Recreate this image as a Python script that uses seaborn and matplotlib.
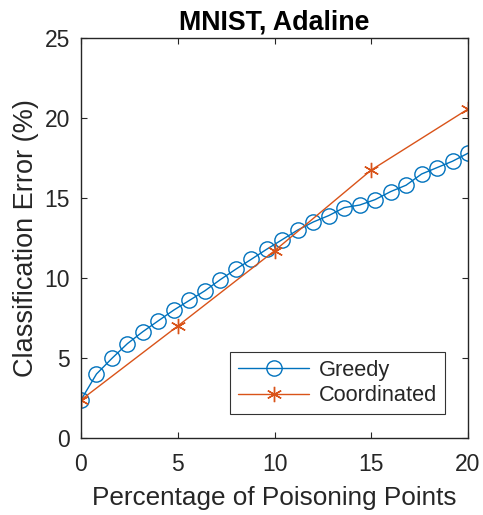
import numpy as np
import pandas as pd
import matplotlib
matplotlib.use("Agg")
import matplotlib.pyplot as plt
import seaborn as sns

# Percentage of poisoning points and classification error (%)
greedy_x = [0, 0.8, 1.6, 2.4, 3.2, 4.0, 4.8, 5.6, 6.4, 7.2, 8.0, 8.8, 9.6,
            10.4, 11.2, 12.0, 12.8, 13.6, 14.4, 15.2, 16.0, 16.8, 17.6, 18.4, 19.2, 20.0]
greedy_err = [2.38, 4.0, 4.98, 5.9, 6.65, 7.33, 8.0, 8.6, 9.2, 9.9, 10.55, 11.17, 11.8,
              12.4, 13.0, 13.5, 13.9, 14.4, 14.56, 14.9, 15.4, 15.8, 16.5, 16.9, 17.3, 17.8]
coord_x = [0, 5, 10, 15, 20]
coord_err = [2.38, 7.0, 11.7, 16.75, 20.56]

x_ticks = [0, 5, 10, 15, 20]
y_ticks = [0, 5, 10, 15, 20, 25]

sns.set_style("white")
plt.rcParams["font.family"] = ["Liberation Sans", "DejaVu Sans"]

blue = "#0072BD"
orange = "#D95319"
axis_col = "#262626"

fig = plt.figure(figsize=(4.83, 5.15), dpi=100)
ax = fig.add_axes([0.1677, 0.1495, 0.8013, 0.7767])

df_g = pd.DataFrame({"x": greedy_x, "y": greedy_err})
df_c = pd.DataFrame({"x": coord_x, "y": coord_err})

sns.lineplot(data=df_g, x="x", y="y", ax=ax, color=blue, lw=1.0,
             marker="o", markersize=11, markerfacecolor="none",
             markeredgecolor=blue, markeredgewidth=1.0, label="Greedy")
sns.lineplot(data=df_c, x="x", y="y", ax=ax, color=orange, lw=1.0,
             marker=(6, 2, 0), markersize=11, markeredgecolor=orange,
             markeredgewidth=1.0, label="Coordinated")

ax.set_xlim(0, 20)
ax.set_ylim(0, 25)
ax.set_xticks(x_ticks)
ax.set_yticks(y_ticks)
ax.tick_params(direction="in", length=4, width=0.8, colors=axis_col,
               labelsize=16.5, top=True, right=True, bottom=True, left=True)
ax.tick_params(axis="x", pad=11)
ax.tick_params(axis="y", pad=8)
for s in ax.spines.values():
    s.set_visible(True)
    s.set_color(axis_col)
    s.set_linewidth(1.0)

ax.set_xlabel("Percentage of Poisoning Points", fontsize=18.8, color=axis_col, labelpad=7)
ax.set_ylabel("Classification Error (%)", fontsize=19.5, color=axis_col, labelpad=4)
ax.set_title("MNIST, Adaline", fontsize=19.3, fontweight="bold", color="black", pad=6)

leg = ax.legend(loc="lower right", bbox_to_anchor=(0.941, 0.06), fontsize=15.7,
                frameon=True, fancybox=False, edgecolor="black",
                handlelength=3.3, borderpad=0.35, labelspacing=0.2,
                handletextpad=0.45, borderaxespad=0)
leg.get_frame().set_linewidth(0.8)

fig.savefig("out.png", dpi=100)
